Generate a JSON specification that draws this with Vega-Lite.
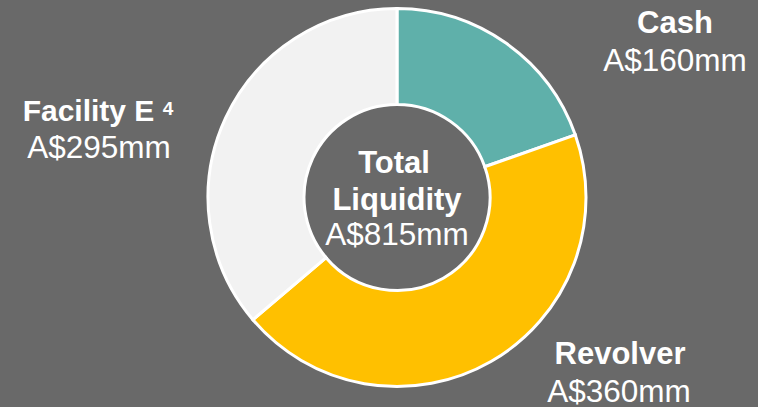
{
  "$schema": "https://vega.github.io/schema/vega-lite/v6.json",
  "width": 758,
  "height": 407,
  "autosize": {"type": "fit", "contains": "padding"},
  "padding": {"left": 36, "top": 0, "right": 0, "bottom": 5},
  "background": "#696969",
  "config": {
    "view": {"stroke": null},
    "text": {"font": "Liberation Sans", "fontSize": 31.5, "color": "#ffffff", "align": "center", "baseline": "alphabetic"}
  },
  "datasets": {
    "parts": [
      {"category": "Cash", "label": "Cash", "note": "", "amount": "A$160mm", "value": 160, "order": 1},
      {"category": "Revolver", "label": "Revolver", "note": "", "amount": "A$360mm", "value": 360, "order": 2},
      {"category": "Facility E", "label": "Facility E", "note": "4", "amount": "A$295mm", "value": 295, "order": 3}
    ],
    "total": [
      {"line1": "Total", "line2": "Liquidity", "amount": "A$815mm", "value": 815}
    ]
  },
  "layer": [
    {
      "data": {"name": "parts"},
      "mark": {"type": "arc", "outerRadius": 189, "innerRadius": 93, "stroke": "#ffffff", "strokeWidth": 3},
      "encoding": {
        "theta": {"field": "value", "type": "quantitative", "stack": true},
        "order": {"field": "order", "type": "quantitative"},
        "color": {
          "field": "category",
          "type": "nominal",
          "scale": {"domain": ["Cash", "Revolver", "Facility E"], "range": ["#5fb0aa", "#ffc000", "#f2f2f2"]},
          "legend": null
        }
      }
    },
    {
      "data": {"name": "parts"},
      "transform": [{"filter": "datum.category === 'Cash'"}],
      "mark": {"type": "text", "fontWeight": "bold", "fontSize": 31, "dx": 278, "dy": -165},
      "encoding": {"text": {"field": "label"}}
    },
    {
      "data": {"name": "parts"},
      "transform": [{"filter": "datum.category === 'Cash'"}],
      "mark": {"type": "text", "dx": 278, "dy": -127},
      "encoding": {"text": {"field": "amount"}}
    },
    {
      "data": {"name": "parts"},
      "transform": [{"filter": "datum.category === 'Revolver'"}],
      "mark": {"type": "text", "fontWeight": "bold", "fontSize": 31, "dx": 223, "dy": 166},
      "encoding": {"text": {"field": "label"}}
    },
    {
      "data": {"name": "parts"},
      "transform": [{"filter": "datum.category === 'Revolver'"}],
      "mark": {"type": "text", "dx": 222, "dy": 204},
      "encoding": {"text": {"field": "amount"}}
    },
    {
      "data": {"name": "parts"},
      "transform": [{"filter": "datum.category === 'Facility E'"}],
      "mark": {"type": "text", "fontWeight": "bold", "fontSize": 30, "dx": -308.5, "dy": -77},
      "encoding": {"text": {"field": "label"}}
    },
    {
      "data": {"name": "parts"},
      "transform": [{"filter": "datum.category === 'Facility E'"}],
      "mark": {"type": "text", "fontWeight": "bold", "fontSize": 19, "dx": -229, "dy": -83},
      "encoding": {"text": {"field": "note"}}
    },
    {
      "data": {"name": "parts"},
      "transform": [{"filter": "datum.category === 'Facility E'"}],
      "mark": {"type": "text", "dx": -298, "dy": -40},
      "encoding": {"text": {"field": "amount"}}
    },
    {
      "data": {"name": "total"},
      "mark": {"type": "text", "fontWeight": "bold", "fontSize": 31, "dx": -3, "dy": -25},
      "encoding": {"text": {"field": "line1"}}
    },
    {
      "data": {"name": "total"},
      "mark": {"type": "text", "fontWeight": "bold", "fontSize": 31, "dx": 0, "dy": 12},
      "encoding": {"text": {"field": "line2"}}
    },
    {
      "data": {"name": "total"},
      "mark": {"type": "text", "dx": 0, "dy": 47},
      "encoding": {"text": {"field": "amount"}}
    }
  ]
}
